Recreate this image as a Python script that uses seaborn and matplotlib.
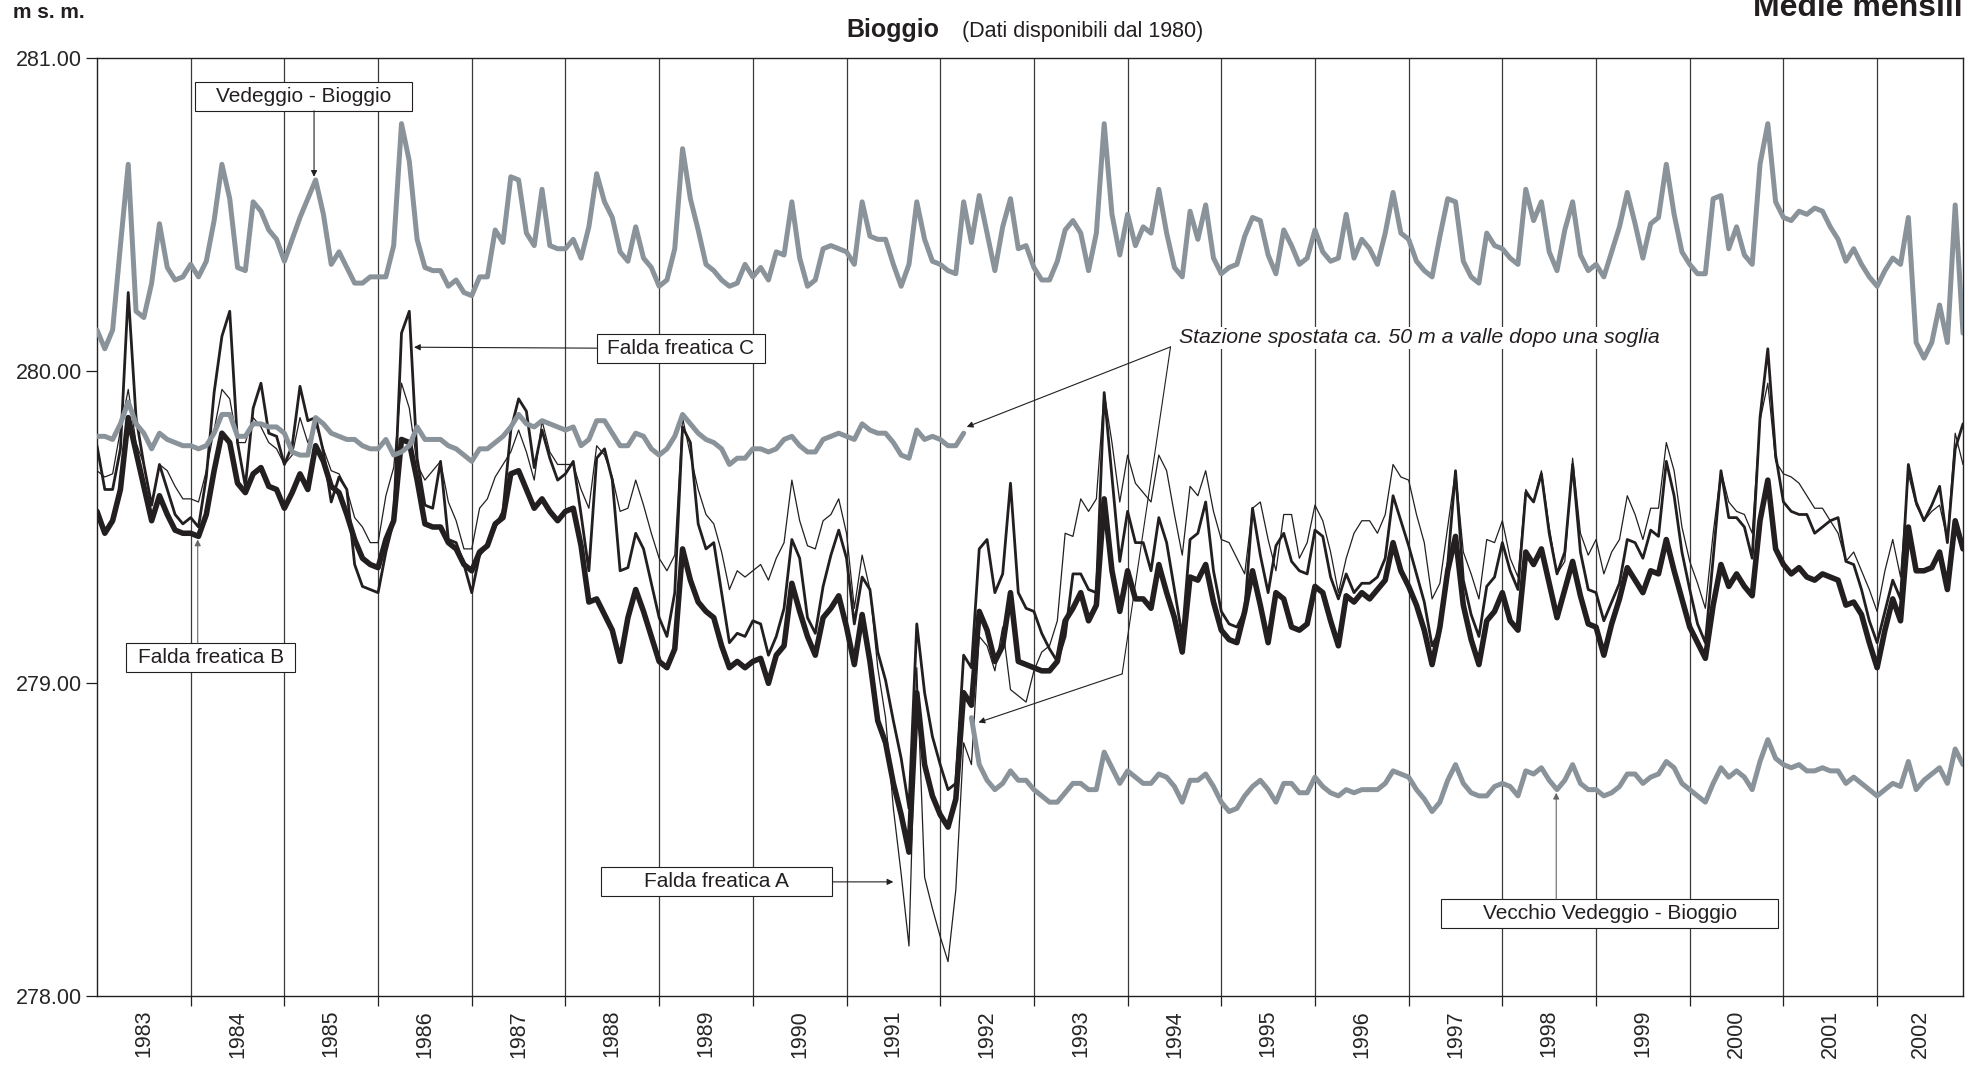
import numpy as np
import pandas as pd
import seaborn as sns
import matplotlib.pyplot as plt
from matplotlib.patches import Rectangle

# Anni sull'asse x (un valore al mese, gen 1983 - dic 2002)
anni = list(range(1983, 2003))

# Vedeggio - Bioggio (medie mensili, m s.m.)
vedeggio = [
    280.13, 280.07, 280.13, 280.40, 280.66, 280.19, 280.17, 280.28, 280.47, 280.33, 280.29, 280.30,
    280.34, 280.30, 280.35, 280.48, 280.66, 280.55, 280.33, 280.32, 280.54, 280.51, 280.45, 280.42,
    280.35, 280.42, 280.49, 280.55, 280.61, 280.50, 280.34, 280.38, 280.33, 280.28, 280.28, 280.30,
    280.30, 280.30, 280.40, 280.79, 280.67, 280.42, 280.33, 280.32, 280.32, 280.27, 280.29, 280.25,
    280.24, 280.30, 280.30, 280.45, 280.41, 280.62, 280.61, 280.44, 280.40, 280.58, 280.40, 280.39,
    280.39, 280.42, 280.36, 280.46, 280.63, 280.54, 280.49, 280.38, 280.35, 280.46, 280.36, 280.33,
    280.27, 280.29, 280.39, 280.71, 280.55, 280.45, 280.34, 280.32, 280.29, 280.27, 280.28, 280.34,
    280.30, 280.33, 280.29, 280.38, 280.37, 280.54, 280.36, 280.27, 280.29, 280.39, 280.40, 280.39,
    280.38, 280.34, 280.54, 280.43, 280.42, 280.42, 280.34, 280.27, 280.34, 280.54, 280.42, 280.35,
    280.34, 280.32, 280.31, 280.54, 280.41, 280.56, 280.44, 280.32, 280.46, 280.55, 280.39, 280.40,
    280.33, 280.29, 280.29, 280.35, 280.45, 280.48, 280.44, 280.32, 280.44, 280.79, 280.50, 280.37,
    280.50, 280.40, 280.46, 280.44, 280.58, 280.44, 280.33, 280.30, 280.51, 280.42, 280.53, 280.36,
    280.31, 280.33, 280.34, 280.43, 280.49, 280.48, 280.37, 280.31, 280.45, 280.40, 280.34, 280.36,
    280.45, 280.38, 280.35, 280.36, 280.50, 280.36, 280.42, 280.39, 280.34, 280.44, 280.57, 280.44,
    280.42, 280.35, 280.32, 280.30, 280.43, 280.55, 280.54, 280.35, 280.30, 280.28, 280.44, 280.40,
    280.39, 280.36, 280.34, 280.58, 280.48, 280.54, 280.38, 280.32, 280.45, 280.54, 280.37, 280.32,
    280.34, 280.30, 280.38, 280.46, 280.57, 280.47, 280.36, 280.47, 280.49, 280.66, 280.50, 280.38,
    280.34, 280.31, 280.31, 280.55, 280.56, 280.39, 280.46, 280.37, 280.34, 280.66, 280.79, 280.54,
    280.49, 280.48, 280.51, 280.50, 280.52, 280.51, 280.46, 280.42, 280.35, 280.39, 280.34, 280.30,
    280.27, 280.32, 280.36, 280.34, 280.49, 280.09, 280.04, 280.09, 280.21, 280.09, 280.53, 280.12,
]

# Vecchio Vedeggio - Bioggio, prima dello spostamento della stazione (gen 1983 - apr 1992)
vecchio_prima = [
    279.79, 279.79, 279.78, 279.83, 279.90, 279.83, 279.80, 279.75, 279.80, 279.78, 279.77, 279.76,
    279.76, 279.75, 279.76, 279.80, 279.86, 279.86, 279.79, 279.79, 279.83, 279.83, 279.82, 279.82,
    279.80, 279.74, 279.73, 279.73, 279.85, 279.83, 279.80, 279.79, 279.78, 279.78, 279.76, 279.75,
    279.75, 279.78, 279.73, 279.74, 279.76, 279.82, 279.78, 279.78, 279.78, 279.76, 279.75, 279.73,
    279.71, 279.75, 279.75, 279.77, 279.79, 279.82, 279.86, 279.83, 279.82, 279.84, 279.83, 279.82,
    279.81, 279.82, 279.76, 279.78, 279.84, 279.84, 279.80, 279.76, 279.76, 279.80, 279.79, 279.75,
    279.73, 279.75, 279.79, 279.86, 279.83, 279.80, 279.78, 279.77, 279.75, 279.70, 279.72, 279.72,
    279.75, 279.75, 279.74, 279.75, 279.78, 279.79, 279.76, 279.74, 279.74, 279.78, 279.79, 279.80,
    279.79, 279.78, 279.83, 279.81, 279.80, 279.80, 279.77, 279.73, 279.72, 279.81, 279.78, 279.79,
    279.78, 279.76, 279.76, 279.80,
]

# Vecchio Vedeggio - Bioggio, dopo lo spostamento (mag 1992 - dic 2002)
vecchio_dopo = [
    278.89, 278.74, 278.69, 278.66, 278.68, 278.72, 278.69, 278.69,
    278.66, 278.64, 278.62, 278.62, 278.65, 278.68, 278.68, 278.66, 278.66, 278.78, 278.73, 278.68,
    278.72, 278.70, 278.68, 278.68, 278.71, 278.70, 278.67, 278.62, 278.69, 278.69, 278.71, 278.67,
    278.62, 278.59, 278.60, 278.64, 278.67, 278.69, 278.66, 278.62, 278.68, 278.68, 278.65, 278.65,
    278.70, 278.67, 278.65, 278.64, 278.66, 278.65, 278.66, 278.66, 278.66, 278.68, 278.72, 278.71,
    278.70, 278.66, 278.63, 278.59, 278.62, 278.69, 278.74, 278.68, 278.65, 278.64, 278.64, 278.67,
    278.68, 278.67, 278.64, 278.72, 278.71, 278.73, 278.69, 278.66, 278.69, 278.74, 278.68, 278.66,
    278.66, 278.64, 278.65, 278.67, 278.71, 278.71, 278.68, 278.70, 278.71, 278.75, 278.73, 278.68,
    278.66, 278.64, 278.62, 278.68, 278.73, 278.70, 278.72, 278.70, 278.66, 278.75, 278.82, 278.76,
    278.74, 278.73, 278.74, 278.72, 278.72, 278.73, 278.72, 278.72, 278.68, 278.70, 278.68, 278.66,
    278.64, 278.66, 278.68, 278.67, 278.75, 278.66, 278.69, 278.71, 278.73, 278.68, 278.79, 278.74,
]

# Falda freatica A (linea sottile)
falda_a = [
    279.68, 279.66, 279.67, 279.81, 279.94, 279.77, 279.70, 279.57, 279.70, 279.68, 279.63, 279.59,
    279.59, 279.58, 279.68, 279.81, 279.94, 279.91, 279.77, 279.77, 279.85, 279.82, 279.77, 279.75,
    279.70, 279.73, 279.85, 279.77, 279.83, 279.75, 279.68, 279.67, 279.62, 279.53, 279.50, 279.45,
    279.45, 279.60, 279.69, 279.96, 279.88, 279.70, 279.65, 279.68, 279.71, 279.58, 279.52, 279.43,
    279.43, 279.56, 279.59, 279.66, 279.70, 279.74, 279.81, 279.74, 279.65, 279.84, 279.74, 279.70,
    279.70, 279.70, 279.62, 279.56, 279.76, 279.73, 279.66, 279.55, 279.56, 279.65, 279.57, 279.48,
    279.40, 279.36, 279.41, 279.85, 279.73, 279.62, 279.54, 279.51, 279.42, 279.30, 279.36, 279.34,
    279.36, 279.38, 279.33, 279.40, 279.45, 279.65, 279.52, 279.44, 279.43, 279.52, 279.54, 279.59,
    279.48, 279.24, 279.41, 279.30, 279.05, 278.89, 278.60, 278.39, 278.16, 279.05, 278.38, 278.28,
    278.19, 278.11, 278.34, 278.81, 278.74, 279.15, 279.12, 279.04, 279.18, 278.98, 278.96, 278.94,
    279.04, 279.10, 279.12, 279.20, 279.48, 279.47, 279.59, 279.55, 279.59, 279.93, 279.77, 279.58,
    279.73, 279.64, 279.61, 279.58, 279.73, 279.68, 279.54, 279.41, 279.63, 279.60, 279.68, 279.55,
    279.46, 279.45, 279.40, 279.35, 279.56, 279.58, 279.46, 279.36, 279.54, 279.54, 279.40, 279.45,
    279.57, 279.52, 279.42, 279.29, 279.40, 279.48, 279.52, 279.52, 279.48, 279.54, 279.70, 279.66,
    279.65, 279.54, 279.45, 279.27, 279.32, 279.50, 279.68, 279.42, 279.35, 279.27, 279.46, 279.45,
    279.52, 279.40, 279.34, 279.62, 279.58, 279.68, 279.50, 279.35, 279.39, 279.72, 279.48, 279.41,
    279.46, 279.35, 279.42, 279.46, 279.60, 279.54, 279.46, 279.56, 279.56, 279.77, 279.68, 279.50,
    279.39, 279.32, 279.24, 279.48, 279.68, 279.58, 279.55, 279.54, 279.48, 279.84, 279.96, 279.71,
    279.67, 279.66, 279.64, 279.60, 279.56, 279.56, 279.52, 279.48, 279.39, 279.42, 279.36, 279.30,
    279.23, 279.36, 279.46, 279.34, 279.67, 279.57, 279.52, 279.55, 279.57, 279.46, 279.80, 279.70,
]

# Falda freatica B (linea spessa)
falda_b = [
    279.55, 279.48, 279.52, 279.62, 279.85, 279.74, 279.63, 279.52, 279.60, 279.54, 279.49, 279.48,
    279.48, 279.47, 279.54, 279.68, 279.80, 279.77, 279.64, 279.61, 279.67, 279.69, 279.63, 279.62,
    279.56, 279.61, 279.67, 279.62, 279.76, 279.71, 279.63, 279.61, 279.54, 279.46, 279.40, 279.38,
    279.37, 279.46, 279.52, 279.78, 279.77, 279.65, 279.51, 279.50, 279.50, 279.45, 279.43, 279.38,
    279.36, 279.42, 279.44, 279.51, 279.53, 279.67, 279.68, 279.62, 279.56, 279.59, 279.55, 279.52,
    279.55, 279.56, 279.44, 279.26, 279.27, 279.22, 279.17, 279.07, 279.21, 279.30, 279.23, 279.15,
    279.07, 279.05, 279.11, 279.43, 279.33, 279.26, 279.23, 279.21, 279.12, 279.05, 279.07, 279.05,
    279.07, 279.08, 279.00, 279.09, 279.12, 279.32, 279.23, 279.15, 279.09, 279.21, 279.24, 279.28,
    279.18, 279.06, 279.22, 279.07, 278.88, 278.81, 278.68, 278.58, 278.46, 278.97, 278.74, 278.64,
    278.58, 278.54, 278.63, 278.97, 278.93, 279.23, 279.17, 279.07, 279.12, 279.29, 279.07, 279.06,
    279.05, 279.04, 279.04, 279.07, 279.20, 279.24, 279.29, 279.20, 279.25, 279.59, 279.36, 279.23,
    279.36, 279.27, 279.27, 279.24, 279.38, 279.29, 279.21, 279.10, 279.34, 279.33, 279.38, 279.26,
    279.17, 279.14, 279.13, 279.23, 279.36, 279.25, 279.13, 279.29, 279.27, 279.18, 279.17, 279.19,
    279.31, 279.29, 279.20, 279.12, 279.28, 279.26, 279.29, 279.27, 279.30, 279.33, 279.45, 279.36,
    279.31, 279.25, 279.17, 279.06, 279.18, 279.36, 279.47, 279.25, 279.14, 279.06, 279.20, 279.23,
    279.29, 279.20, 279.17, 279.42, 279.38, 279.43, 279.32, 279.21, 279.30, 279.39, 279.28, 279.19,
    279.18, 279.09, 279.19, 279.27, 279.37, 279.33, 279.29, 279.36, 279.35, 279.46, 279.36, 279.27,
    279.18, 279.13, 279.08, 279.25, 279.38, 279.31, 279.35, 279.31, 279.28, 279.52, 279.65, 279.43,
    279.38, 279.35, 279.37, 279.34, 279.33, 279.35, 279.34, 279.33, 279.25, 279.26, 279.22, 279.13,
    279.05, 279.17, 279.27, 279.20, 279.50, 279.36, 279.36, 279.37, 279.42, 279.30, 279.52, 279.43,
]

# Falda freatica C (linea media)
falda_c = [
    279.76, 279.62, 279.62, 279.75, 280.25, 279.85, 279.70, 279.57, 279.70, 279.62, 279.54, 279.51,
    279.53, 279.50, 279.66, 279.93, 280.11, 280.19, 279.77, 279.63, 279.88, 279.96, 279.80, 279.79,
    279.70, 279.76, 279.95, 279.84, 279.85, 279.74, 279.58, 279.66, 279.62, 279.38, 279.31, 279.30,
    279.29, 279.42, 279.52, 280.12, 280.19, 279.72, 279.57, 279.56, 279.71, 279.46, 279.45, 279.38,
    279.29, 279.41, 279.44, 279.50, 279.55, 279.81, 279.91, 279.87, 279.69, 279.81, 279.72, 279.65,
    279.67, 279.71, 279.54, 279.36, 279.72, 279.75, 279.65, 279.36, 279.37, 279.48, 279.43, 279.32,
    279.21, 279.15, 279.29, 279.82, 279.77, 279.51, 279.43, 279.45, 279.29, 279.13, 279.16, 279.15,
    279.20, 279.19, 279.09, 279.15, 279.24, 279.46, 279.40, 279.21, 279.16, 279.31, 279.41, 279.49,
    279.40, 279.19, 279.34, 279.30, 279.10, 279.01, 278.88, 278.76, 278.60, 279.19, 278.97, 278.83,
    278.74, 278.66, 278.68, 279.09, 279.05, 279.43, 279.46, 279.29, 279.35, 279.64, 279.29, 279.24,
    279.23, 279.16, 279.11, 279.07, 279.15, 279.35, 279.35, 279.30, 279.29, 279.93, 279.66, 279.39,
    279.55, 279.45, 279.45, 279.36, 279.53, 279.45, 279.30, 279.15, 279.46, 279.48, 279.58, 279.36,
    279.23, 279.19, 279.18, 279.23, 279.56, 279.41, 279.29, 279.44, 279.48, 279.39, 279.36, 279.35,
    279.49, 279.47, 279.34, 279.27, 279.35, 279.29, 279.32, 279.32, 279.34, 279.40, 279.60, 279.52,
    279.44, 279.35, 279.26, 279.12, 279.17, 279.38, 279.68, 279.33, 279.22, 279.15, 279.31, 279.34,
    279.45, 279.36, 279.30, 279.61, 279.58, 279.67, 279.48, 279.35, 279.42, 279.70, 279.42, 279.30,
    279.29, 279.20, 279.26, 279.32, 279.46, 279.45, 279.40, 279.49, 279.47, 279.71, 279.60, 279.42,
    279.30, 279.19, 279.13, 279.40, 279.68, 279.53, 279.53, 279.50, 279.40, 279.85, 280.07, 279.73,
    279.58, 279.55, 279.54, 279.54, 279.48, 279.50, 279.52, 279.53, 279.39, 279.38, 279.30, 279.20,
    279.13, 279.23, 279.33, 279.27, 279.70, 279.58, 279.52, 279.57, 279.63, 279.45, 279.75, 279.83,
]

n = len(vedeggio)
df = pd.DataFrame({
    'mese': np.arange(n),
    'Vedeggio': vedeggio,
    'A': falda_a,
    'B': falda_b,
    'C': falda_c,
    'Vecchio': vecchio_prima + [np.nan] * len(vecchio_dopo),
    'Vecchio nuovo': [np.nan] * len(vecchio_prima) + vecchio_dopo,
})

sns.set_theme(style='white')
plt.rcParams['font.family'] = ['Liberation Sans', 'DejaVu Sans']

fig = plt.figure(figsize=(19.77, 10.66), dpi=100)
ax = fig.add_axes([97 / 1977, 1 - 996 / 1066, 1866 / 1977, 938 / 1066])

nero = '#231f20'
grigio = '#8a939a'

# linee di falda (nere) e poi i fiumi (grigi)
sns.lineplot(data=df, x='mese', y='A', color=nero, linewidth=0.9, ax=ax, zorder=3)
sns.lineplot(data=df, x='mese', y='C', color=nero, linewidth=2.0, ax=ax, zorder=3)
sns.lineplot(data=df, x='mese', y='B', color=nero, linewidth=4.0, ax=ax, zorder=3)
for col in ['Vedeggio', 'Vecchio', 'Vecchio nuovo']:
    sns.lineplot(data=df, x='mese', y=col, color=grigio, linewidth=3.6, ax=ax, zorder=4)
for line in ax.get_lines():
    line.set_solid_joinstyle('round')

# assi
ax.set_xlim(0, n - 1)
ax.set_ylim(278, 281)
ax.set_yticks([278, 279, 280, 281])
ax.set_yticklabels(['278.00', '279.00', '280.00', '281.00'], fontsize=15.5)
ax.set_xlabel('')
ax.set_ylabel('')

inizi = np.arange(0, n, 12)
fini = np.minimum(inizi + 12, n - 1)
ax.set_xticks(inizi[1:])
ax.set_xticklabels([])
ax.set_xticks((inizi + fini) / 2, minor=True)
ax.set_xticklabels([str(a) for a in anni], minor=True, rotation=90, fontsize=15.5)
ax.tick_params(axis='x', which='major', direction='out', length=7, width=0.9, color=nero, bottom=True)
ax.tick_params(axis='x', which='minor', length=0, pad=10)
ax.tick_params(axis='y', direction='out', length=8, width=0.9, color=nero, left=True, pad=3)
ax.grid(True, axis='x', which='major', color='#3a3a3a', linewidth=0.9)
ax.grid(False, axis='y')
for s in ax.spines.values():
    s.set_color(nero)
    s.set_linewidth(1.0)

# riquadri con etichette
def riquadro(x0, x1, y0, y1, testo):
    ax.add_patch(Rectangle((x0, y0), x1 - x0, y1 - y0, facecolor='white',
                           edgecolor=nero, linewidth=0.8, zorder=6))
    ax.text((x0 + x1) / 2, (y0 + y1) / 2, testo, ha='center', va='center',
            fontsize=15, color=nero, zorder=7)

def freccia(xy_da, xy_a, colore=nero):
    ax.annotate('', xy=xy_a, xytext=xy_da, zorder=6,
                arrowprops=dict(arrowstyle='-|>', color=colore, lw=0.8,
                                mutation_scale=9, shrinkA=0, shrinkB=0))

riquadro(12.6, 40.4, 280.831, 280.923, 'Vedeggio - Bioggio')
freccia((27.8, 280.831), (27.8, 280.62))

riquadro(64.0, 85.6, 280.024, 280.117, 'Falda freatica C')
freccia((64.0, 280.072), (40.6, 280.075))

riquadro(3.7, 25.4, 279.036, 279.129, 'Falda freatica B')
freccia((12.9, 279.129), (12.9, 279.46), colore='#666666')

riquadro(64.6, 94.2, 278.319, 278.411, 'Falda freatica A')
freccia((94.2, 278.365), (102.0, 278.365))

riquadro(172.2, 215.3, 278.218, 278.31, 'Vecchio Vedeggio - Bioggio')
freccia((186.9, 278.31), (186.9, 278.65), colore='#666666')

# nota sullo spostamento della stazione
ax.text(138.6, 280.105, 'Stazione spostata ca. 50 m a valle dopo una soglia',
        ha='left', va='center', fontsize=15.3, style='italic', color=nero, zorder=7,
        bbox=dict(facecolor='white', edgecolor='none', pad=1))
freccia((137.5, 280.076), (111.4, 279.82))
ax.plot([137.5, 131.3], [280.076, 279.03], color=nero, linewidth=0.8, zorder=6)
freccia((131.3, 279.03), (112.9, 278.875))

# testi esterni
fig.text(13 / 1977, 1 - 18 / 1066, 'm s. m.', fontsize=15, fontweight='bold',
         ha='left', va='baseline', color=nero)
fig.text(846 / 1977, 1 - 37 / 1066, 'Bioggio', fontsize=18, fontweight='bold',
         ha='left', va='baseline', color=nero)
fig.text(962 / 1977, 1 - 37 / 1066, '(Dati disponibili dal 1980)', fontsize=15.5,
         ha='left', va='baseline', color=nero)
fig.text(1963 / 1977, 1 - 16 / 1066, 'Medie mensili', fontsize=23, fontweight='bold',
         ha='right', va='baseline', color=nero)

fig.savefig('out.png', dpi=100, facecolor='white')
